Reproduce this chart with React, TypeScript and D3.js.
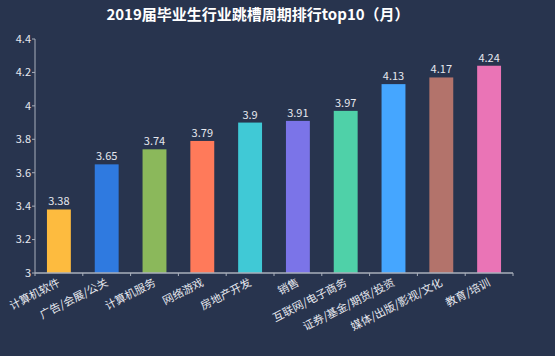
import React from "react";
import * as d3 from "d3";

const title = "2019届毕业生行业跳槽周期排行top10（月）";
const categories = ["计算机软件", "广告/会展/公关", "计算机服务", "网络游戏", "房地产开发", "销售", "互联网/电子商务", "证券/基金/期货/投资", "媒体/出版/影视/文化", "教育/培训"];
const values = [3.38, 3.65, 3.74, 3.79, 3.9, 3.91, 3.97, 4.13, 4.17, 4.24];
const colors = ["#fdbb3f", "#2f7ae0", "#8bb85b", "#ff7a5a", "#40c9d6", "#7b74e8", "#4fd1a8", "#45a6ff", "#b3736b", "#ea74b6"];
const yTicks = [3, 3.2, 3.4, 3.6, 3.8, 4, 4.2, 4.4];

const W = 555, H = 356;
const left = 35, right = 513, top = 39, bottom = 273;
const font = "'Noto Sans CJK SC', 'Noto Sans', sans-serif";

export default function App() {
  const x = d3.scaleBand<string>().domain(categories).range([left, right]).paddingInner(0.5).paddingOuter(0.25);
  const xb = d3.scaleBand<string>().domain(categories).range([left, right]);
  const y = d3.scaleLinear().domain([3, 4.4]).range([bottom, top]);
  const axisColor = "#a9afbb";
  return (
    <svg width={W} height={H} style={{ position: "absolute", left: 0, top: 0, background: "#28344e" }}>
      <rect x={0} y={0} width={W} height={H} fill="#28344e" />
      <text x={258} y={20} textAnchor="middle" fill="#ffffff" fontSize={15} fontWeight="bold" fontFamily={font}>{title}</text>
      {categories.map((c, i) => (
        <g key={c}>
          <rect x={x(c)} y={y(values[i])} width={x.bandwidth()} height={bottom - y(values[i])} fill={colors[i]} />
          <text x={x(c)! + x.bandwidth() / 2} y={y(values[i]) - 4} textAnchor="middle" fill="#e6e8ee" fontSize={11} fontFamily={font}>{values[i]}</text>
        </g>
      ))}
      <line x1={left} x2={left} y1={top} y2={bottom} stroke={axisColor} strokeWidth={1} />
      {yTicks.map((t) => (
        <g key={t}>
          <line x1={left - 3} x2={left} y1={y(t)} y2={y(t)} stroke={axisColor} />
          <text x={left - 4} y={y(t)} dy="0.35em" textAnchor="end" fill="#e6e8ee" fontSize={11} fontFamily={font}>{t}</text>
        </g>
      ))}
      <line x1={left} x2={right} y1={bottom} y2={bottom} stroke={axisColor} strokeWidth={1.5} />
      {categories.map((c) => (
        <line key={"t" + c} x1={xb(c)!} x2={xb(c)!} y1={bottom} y2={bottom + 3} stroke={axisColor} />
      ))}
      <line x1={right} x2={right} y1={bottom} y2={bottom + 3} stroke={axisColor} />
      {categories.map((c) => {
        const cx = x(c)! + x.bandwidth() / 2;
        return (
          <text key={"l" + c} transform={`translate(${cx + 2},${bottom + 12}) rotate(-27)`} textAnchor="end" fill="#e6e8ee" fontSize={11} fontFamily={font}>{c}</text>
        );
      })}
    </svg>
  );
}
